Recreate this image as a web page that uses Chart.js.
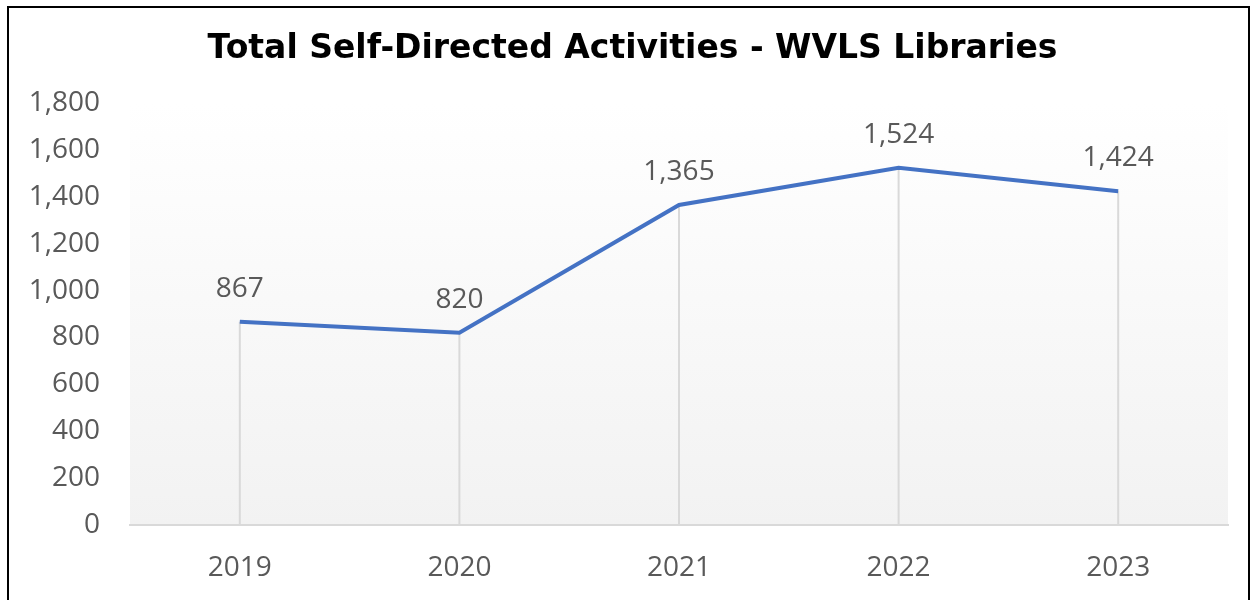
<!DOCTYPE html>
<html>
<head>
<meta charset="utf-8">
<script src="https://cdn.jsdelivr.net/npm/chart.js@4/dist/chart.umd.min.js"></script>
<style>
    body { margin: 0; background: #fff; }
    .wrap { position: relative; width: 1257px; height: 600px; overflow: hidden; }
    .frame { position: absolute; left: 7px; top: 6px; width: 1243px; height: 600px; border: 2px solid #000; border-bottom: none; box-sizing: border-box; }
    .title { position: absolute; left: 0; top: 27px; width: 1265px; text-align: center; font: bold 33px "DejaVu Sans", Verdana, sans-serif; line-height: 40px; color: #000; white-space: nowrap; }
    canvas { position: absolute; left: 0; top: 0; }
</style>
</head>
<body>
<div class="wrap">
    <canvas id="myChart" width="1257" height="600"></canvas>
    <div class="title">Total Self-Directed Activities - WVLS Libraries</div>
    <div class="frame"></div>
</div>
<script>
const years = ['2019', '2020', '2021', '2022', '2023'];
const activities = [867, 820, 1365, 1524, 1424];
const yTicks = [0, 200, 400, 600, 800, 1000, 1200, 1400, 1600, 1800];

const labelFont = '"Open Sans", sans-serif';

// plot area fill, drop lines and value labels
const excelLook = {
    id: 'excelLook',
    beforeDraw(chart)
    {
        const { ctx, chartArea } = chart;
        const grad = ctx.createLinearGradient(0, chartArea.top, 0, chartArea.bottom);
        grad.addColorStop(0, '#ffffff');
        grad.addColorStop(1, '#f2f2f2');
        ctx.save();
        ctx.fillStyle = grad;
        ctx.fillRect(chartArea.left, chartArea.top, chartArea.right - chartArea.left, chartArea.bottom - chartArea.top);
        ctx.restore();
    },
    beforeDatasetsDraw(chart)
    {
        const { ctx, chartArea } = chart;
        const meta = chart.getDatasetMeta(0);
        ctx.save();
        ctx.strokeStyle = '#d9d9d9';
        ctx.lineWidth = 2;
        meta.data.forEach(pt =>
        {
            ctx.beginPath();
            ctx.moveTo(pt.x, pt.y);
            ctx.lineTo(pt.x, chartArea.bottom);
            ctx.stroke();
        });
        ctx.restore();
    },
    afterDatasetsDraw(chart)
    {
        const { ctx } = chart;
        const meta = chart.getDatasetMeta(0);
        ctx.save();
        ctx.fillStyle = '#595959';
        ctx.font = '28px ' + labelFont;
        ctx.textAlign = 'center';
        ctx.textBaseline = 'middle';
        meta.data.forEach((pt, i) =>
        {
            ctx.fillText(activities[i].toLocaleString('en-US'), pt.x, pt.y - 33);
        });
        ctx.restore();
    }
};

new Chart(document.getElementById('myChart'), {
    type: 'line',
    data: {
        labels: years,
        datasets: [
            {
                data: activities,
                borderColor: '#4472c4',
                borderWidth: 4,
                pointRadius: 0,
                tension: 0,
                fill: false
            }
        ]
    },
    options: {
        responsive: false,
        animation: false,
        layout: {
            padding: { top: 103, left: 10, right: 29, bottom: 0 }
        },
        plugins: {
            legend: { display: false },
            tooltip: { enabled: false },
            title: { display: false }
        },
        scales: {
            x: {
                offset: true,
                afterFit(scale) { scale.height = 75; },
                grid: { display: false, drawTicks: false },
                border: { color: '#d9d9d9', width: 2 },
                ticks: { color: '#595959', font: { family: labelFont, size: 28 }, padding: 26 }
            },
            y: {
                min: yTicks[0],
                max: yTicks[yTicks.length - 1],
                afterFit(scale) { scale.width = 120; },
                afterBuildTicks(scale) { scale.ticks = yTicks.map(v => ({ value: v })); },
                grid: { display: false, drawTicks: false },
                border: { display: false },
                ticks: {
                    color: '#595959',
                    font: { family: labelFont, size: 28 },
                    padding: 30,
                    callback: v => v.toLocaleString('en-US')
                }
            }
        }
    },
    plugins: [excelLook]
});
</script>
</body>
</html>
